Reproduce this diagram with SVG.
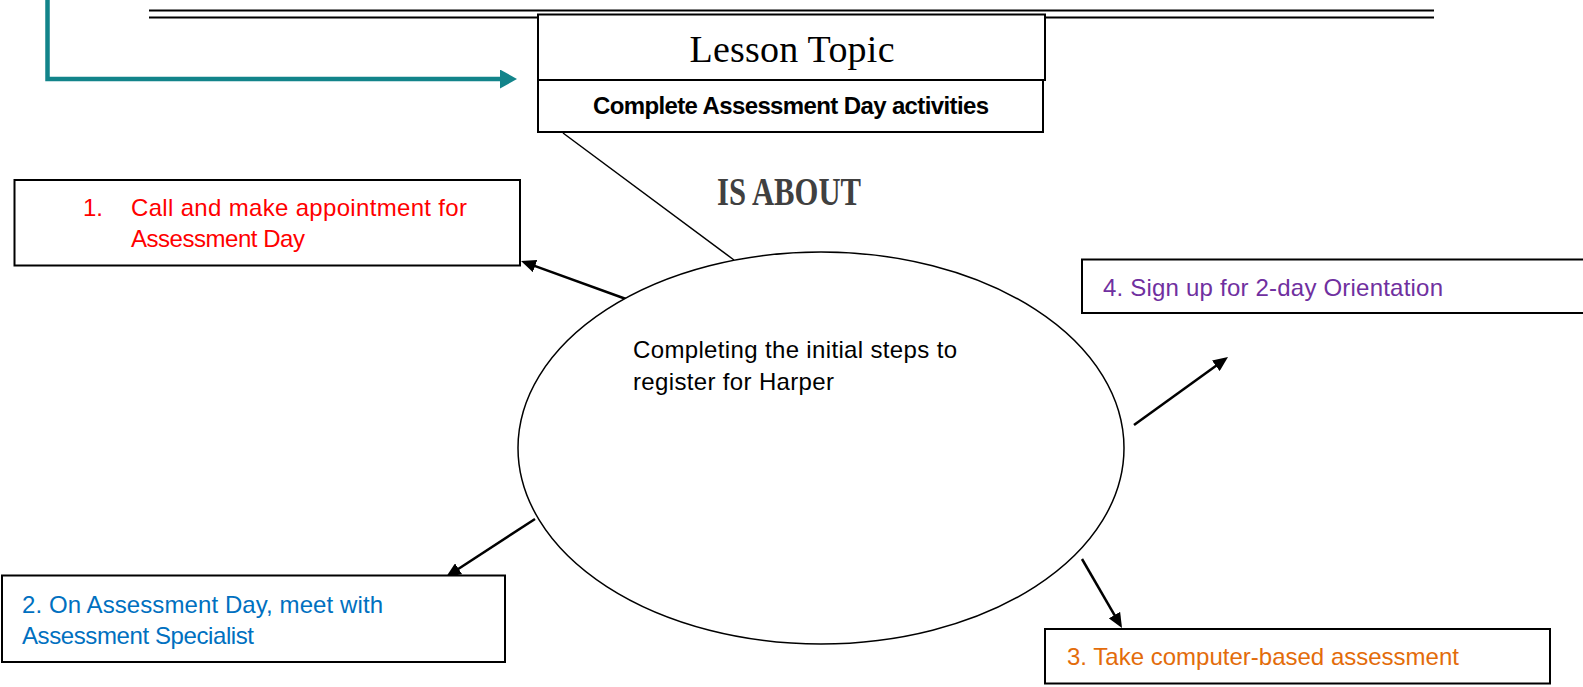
<svg xmlns="http://www.w3.org/2000/svg" width="1583" height="687" viewBox="0 0 1583 687">
<defs>
<style>
.box{fill:#fff;stroke:#000;stroke-width:2}
.lbl{font-family:"Liberation Sans",Arial,sans-serif;font-size:24px}
.conn{stroke:#000;stroke-width:2.5;fill:none}
</style>
<marker id="ah" markerUnits="userSpaceOnUse" markerWidth="16" markerHeight="13" refX="5" refY="6.5" orient="auto">
<path d="M0,0 L15,6.5 L0,13 z" fill="#000"/>
</marker>
<marker id="tah" markerUnits="userSpaceOnUse" markerWidth="18" markerHeight="19" refX="4" refY="9.5" orient="auto">
<path d="M0,0 L17,9.5 L0,19 z" fill="#12848A"/>
</marker>
</defs>
<rect width="1583" height="687" fill="#fff"/>

<g id="rules">
<line x1="149" y1="10.5" x2="1434" y2="10.5" stroke="#000" stroke-width="2"/>
<line x1="149" y1="17.5" x2="1434" y2="17.5" stroke="#000" stroke-width="2"/>
</g>

<g id="connectors">
<path d="M47.5,0 V79 H504" fill="none" stroke="#12848A" stroke-width="4.5" marker-end="url(#tah)"/>
<line x1="563" y1="133" x2="734" y2="260" stroke="#000" stroke-width="1.5"/>
<line class="conn" x1="626" y1="299" x2="530.4" y2="264.4" marker-end="url(#ah)"/>
<line class="conn" x1="535" y1="519" x2="454.4" y2="571.5" marker-end="url(#ah)"/>
<line class="conn" x1="1134" y1="425" x2="1219.9" y2="362.9" marker-end="url(#ah)"/>
<line class="conn" x1="1082" y1="559" x2="1117" y2="619.4" marker-end="url(#ah)"/>
</g>

<g id="lesson-topic">
<rect class="box" x="538" y="14.5" width="507" height="65.5"/>
<text x="792" y="62" text-anchor="middle" font-family="'Liberation Serif','Times New Roman',serif" font-size="38" textLength="205">Lesson Topic</text>
</g>

<g id="topic-subtitle">
<rect class="box" x="538" y="80" width="505" height="52"/>
<text x="593" y="114" class="lbl" font-weight="bold" font-size="21" textLength="396">Complete Assessment Day activities</text>
</g>

<g id="is-about">
<text x="717" y="205" font-family="'Liberation Serif','Times New Roman',serif" font-weight="bold" font-size="40" fill="#404040" textLength="144" lengthAdjust="spacingAndGlyphs">IS ABOUT</text>
</g>

<g id="center">
<ellipse cx="821" cy="448" rx="303" ry="196" fill="#fff" stroke="#000" stroke-width="1.5"/>
<text class="lbl" fill="#000"><tspan x="633" y="358" textLength="324">Completing the initial steps to</tspan><tspan x="633" y="390" textLength="201">register for Harper</tspan></text>
</g>

<g id="step1">
<rect class="box" x="14.5" y="180" width="505.5" height="85.5"/>
<text class="lbl" fill="#FF0000"><tspan x="83" y="216">1.</tspan><tspan x="131" y="216" textLength="336">Call and make appointment for</tspan><tspan x="131" y="247" textLength="174">Assessment Day</tspan></text>
</g>

<g id="step2">
<rect class="box" x="2" y="575.5" width="503" height="86.5"/>
<text class="lbl" fill="#0070C0"><tspan x="22" y="613" textLength="361">2. On Assessment Day, meet with</tspan><tspan x="22" y="644" textLength="232">Assessment Specialist</tspan></text>
</g>

<g id="step3">
<rect class="box" x="1045" y="629" width="505" height="54.5"/>
<text class="lbl" fill="#E36C0A" x="1067" y="665" textLength="392">3. Take computer-based assessment</text>
</g>

<g id="step4">
<rect class="box" x="1082" y="259.5" width="520" height="53.5"/>
<text class="lbl" fill="#7030A0" x="1103" y="296" textLength="340">4. Sign up for 2-day Orientation</text>
</g>
</svg>
